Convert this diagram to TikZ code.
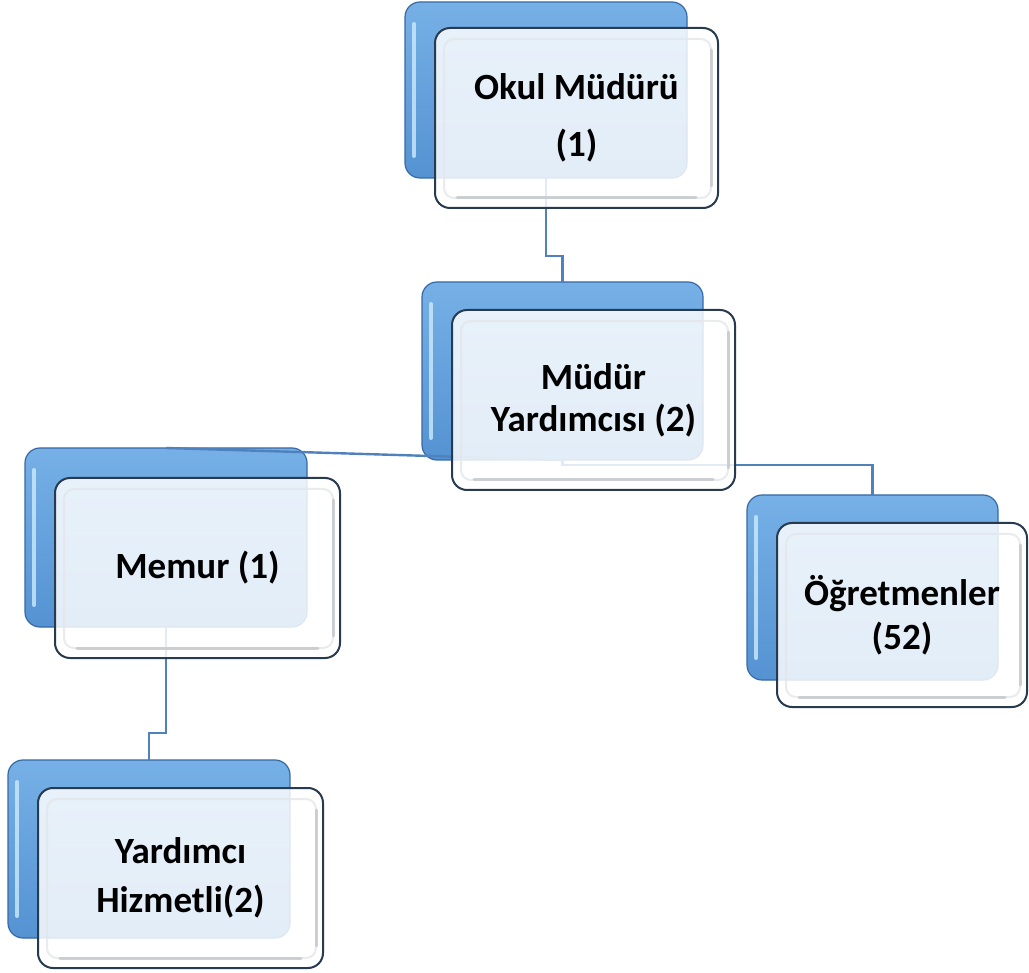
\documentclass[tikz,border=0pt]{standalone}
\usepackage{fontspec}
\setmainfont{Carlito}
\definecolor{linkblue}{RGB}{79,129,189}
\definecolor{backtop}{RGB}{118,176,230}
\definecolor{backbot}{RGB}{84,146,210}
\definecolor{backedge}{RGB}{55,105,165}
\definecolor{frontedge}{RGB}{40,58,78}
\definecolor{bevellight}{RGB}{228,230,233}
\definecolor{beveldark}{RGB}{196,199,203}
\definecolor{stripe}{RGB}{205,235,250}
\begin{document}
\begin{tikzpicture}[x=1pt,y=-1pt,
  backbox/.style={rounded corners=15pt, top color=backtop, bottom color=backbot, draw=backedge, line width=1.2pt, inner sep=0pt, outer sep=0pt},
  frontbox/.style={rounded corners=15pt, fill=white, fill opacity=0.84, text opacity=1, draw=frontedge, line width=2pt, inner sep=0pt, outer sep=0pt, align=center, font=\fontsize{37}{45}\selectfont\bfseries},
  link/.style={draw=linkblue, line width=2.4pt},
  hilite/.style={draw=stripe, line width=4pt, line cap=round, opacity=0.8},
  bevel/.style={draw=bevellight, line width=2pt, rounded corners=10pt, opacity=0.8},
  bevelrb/.style={draw=beveldark, line width=3pt, line cap=round, opacity=0.8}
]
\useasboundingbox (0,0) rectangle (1029,973);

% back boxes (named)
\node[backbox, minimum width=282pt, minimum height=176pt] (b1) at (546,90) {};
\node[backbox, minimum width=281pt, minimum height=178pt] (b2) at (562.5,371) {};
\node[backbox, minimum width=282pt, minimum height=179pt] (mb) at (166,537.5) {};
\node[backbox, minimum width=251pt, minimum height=185pt] (ob) at (872.5,587.5) {};
\node[backbox, minimum width=282pt, minimum height=178pt] (yb) at (149,849) {};

% connectors (under the translucent front boxes)
\draw[link] (b1.south) -- ++(0,78) -| (b2.north);
\draw[link] (b2.south) -- (mb.north);
\draw[link] (b2.south) -- ++(0,5) -| (ob.north);
\draw[link] (mb.south) -- ++(0,106) -| (yb.north);

% left highlights on back boxes
\foreach \b in {b1,b2,mb,ob,yb}{
  \draw[hilite] ([xshift=9pt,yshift=-22pt]\b.north west) -- ([xshift=9pt,yshift=22pt]\b.south west);
}

% front boxes
\node[frontbox, minimum width=283pt, minimum height=180pt] (f1) at (576.5,118) {Okul Müdürü\\[12pt](1)};
\node[frontbox, minimum width=283pt, minimum height=180pt] (f2) at (593.5,400) {Müdür\\[-3pt]Yardımcısı (2)};
\node[frontbox, minimum width=285pt, minimum height=180pt] (mf) at (197.5,568) {Memur (1)};
\node[frontbox, minimum width=250pt, minimum height=184pt] (of) at (902,615) {Öğretmenler\\[-1pt](52)};
\node[frontbox, minimum width=285pt, minimum height=180pt] (yf) at (180.5,878) {Yardımcı\\[4pt]Hizmetli(2)};

% inner bevels
\foreach \f in {f1,f2,mf,of,yf}{
  \draw[bevel] ([shift={(9pt,-11pt)}]\f.north west) rectangle ([shift={(-7pt,10pt)}]\f.south east);
  \draw[bevelrb] ([shift={(-7pt,-22pt)}]\f.north east) -- ([shift={(-7pt,22pt)}]\f.south east);
  \draw[bevelrb] ([shift={(22pt,10pt)}]\f.south west) -- ([shift={(-22pt,10pt)}]\f.south east);
}
\end{tikzpicture}
\end{document}
